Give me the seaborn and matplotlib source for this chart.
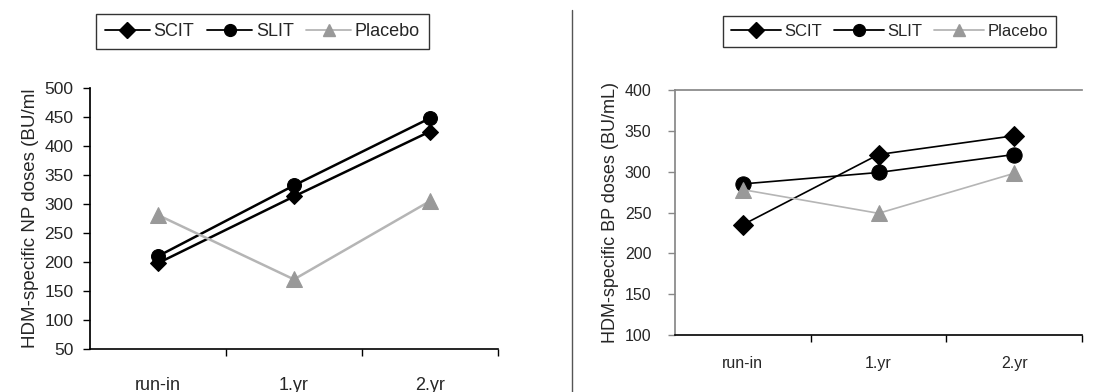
import numpy as np
import pandas as pd
import seaborn as sns
import matplotlib.pyplot as plt
from matplotlib.lines import Line2D

# Daten
timepoints = ["run-in", "1.yr", "2.yr"]
groups = ["SCIT", "SLIT", "Placebo"]

np_scit = [198, 313, 425]
np_slit = [210, 332, 448]
np_placebo = [281, 170, 305]

bp_scit = [235, 321, 344]
bp_slit = [285, 299, 321]
bp_placebo = [278, 249, 298]

np_yticks = list(range(50, 501, 50))
bp_yticks = list(range(100, 401, 50))

sns.set_theme(style="white")
plt.rcParams["font.family"] = ["Liberation Sans", "DejaVu Sans"]

styles = {
    "SCIT": dict(marker="D", color="black", line="black"),
    "SLIT": dict(marker="o", color="black", line="black"),
    "Placebo": dict(marker="^", color="#999999", line="#b5b5b5"),
}


def draw_panel(ax, series, sizes, yticks, ylabel, gray_frame, lw, fs):
    for name, values in zip(groups, series):
        st = styles[name]
        sns.lineplot(x=timepoints, y=values, ax=ax, color=st["line"], lw=lw,
                     marker=st["marker"], markersize=sizes[name],
                     markerfacecolor=st["color"], markeredgecolor=st["color"],
                     sort=False, legend=False)
    ax.set_xlim(-0.5, 2.5)
    ax.set_ylim(yticks[0], yticks[-1])
    ax.set_yticks(yticks)
    ax.set_xticks(range(len(timepoints)))
    ax.set_xticklabels(timepoints)
    ax.set_xticks([0.5, 1.5, 2.5], minor=True)
    ax.tick_params(axis="x", which="major", length=0, pad=fs["xpad"],
                   labelsize=fs["x"])
    ax.tick_params(axis="x", which="minor", length=5, width=1, color="black",
                   direction="out", bottom=True)
    ax.tick_params(axis="y", length=5, width=1, direction="out", left=True,
                   labelsize=fs["y"], pad=fs["ypad"])
    ax.set_ylabel(ylabel, fontsize=fs["label"], labelpad=4)
    ax.set_xlabel("")
    ax.spines["bottom"].set_color("black")
    ax.spines["bottom"].set_linewidth(1.2)
    ax.spines["right"].set_visible(False)
    if gray_frame:
        ax.spines["left"].set_color("#888888")
        ax.spines["top"].set_color("#888888")
        ax.tick_params(axis="y", color="#888888")
    else:
        ax.spines["left"].set_color("black")
        ax.spines["top"].set_visible(False)
        ax.tick_params(axis="y", color="black")


fig = plt.figure(figsize=(11.01, 3.92), dpi=100)
ax1 = fig.add_axes([0.0817, 0.1097, 0.3706, 0.6658])
ax2 = fig.add_axes([0.6131, 0.1454, 0.3697, 0.625])

draw_panel(ax1, [np_scit, np_slit, np_placebo],
           {"SCIT": 8.5, "SLIT": 10, "Placebo": 11},
           np_yticks, "HDM-specific NP doses (BU/ml", False, 1.8,
           dict(x=13, y=12.5, label=13.5, xpad=20, ypad=7))
draw_panel(ax2, [bp_scit, bp_slit, bp_placebo],
           {"SCIT": 10, "SLIT": 11, "Placebo": 12},
           bp_yticks, "HDM-specific BP doses (BU/mL)", True, 1.2,
           dict(x=11.5, y=11.5, label=13, xpad=15, ypad=12))

# Legenden
for ax, cx, fs, ms, hl in [(ax1, 0.2384, 13, 8.5, 2.5), (ax2, 0.808, 12, 8.5, 3.0)]:
    handles = [Line2D([], [], color=styles[g]["line"], marker=styles[g]["marker"],
                      markerfacecolor=styles[g]["color"],
                      markeredgecolor=styles[g]["color"], markersize=ms, lw=1.3)
               for g in groups]
    leg = fig.legend(handles, groups, loc="center", bbox_to_anchor=(cx, 0.9196),
                     ncol=3, frameon=True, fancybox=False, fontsize=fs,
                     handlelength=hl, handletextpad=0.2, columnspacing=0.7,
                     borderpad=0.5, edgecolor="black")
    leg.get_frame().set_linewidth(1.0)

# Trennlinie
fig.add_artist(Line2D([0.5195, 0.5195], [0.0, 0.974], color="#555555", lw=1.0))

plt.savefig("out.png", dpi=100)
plt.close()
